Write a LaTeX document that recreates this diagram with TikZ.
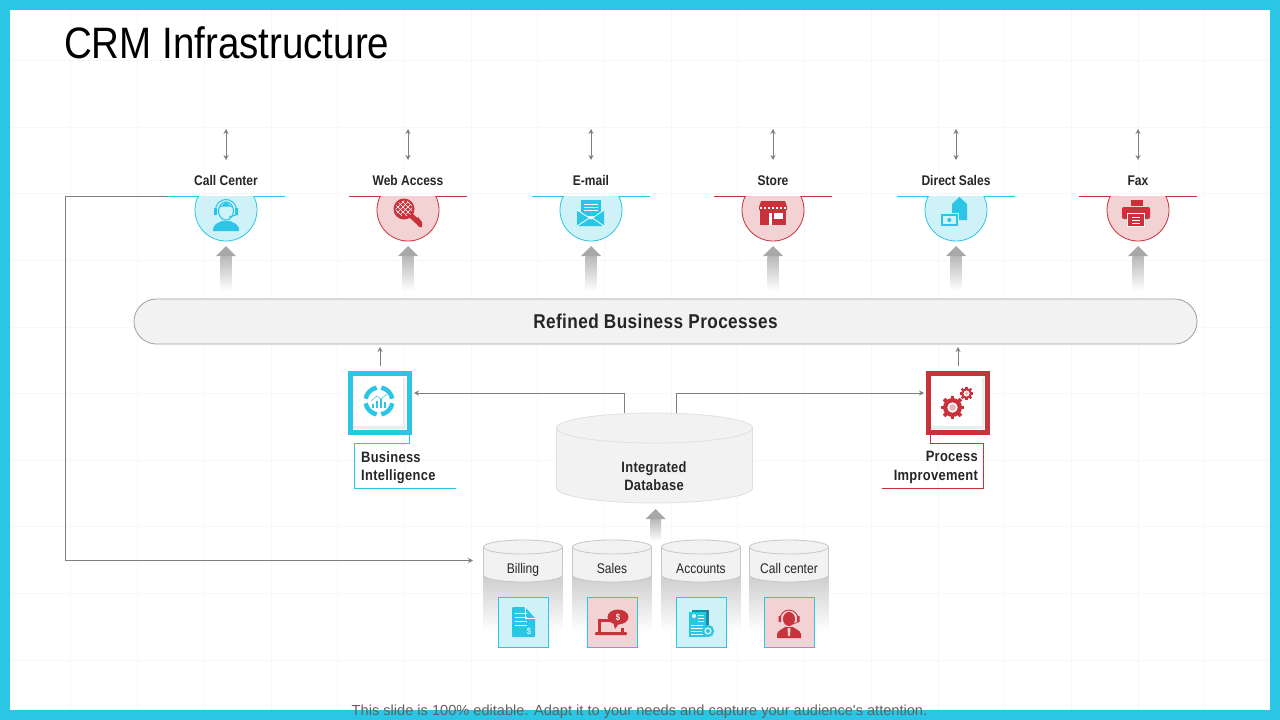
\documentclass[tikz,border=0pt]{standalone}
\usepackage{fontspec}
\setmainfont[FakeStretch=0.86]{Liberation Sans}
\newfontfamily\plainfont{Liberation Sans}
\newfontfamily\titlefont[FakeStretch=0.875]{Liberation Sans}
\newfontfamily\widefont[FakeStretch=0.86, LetterSpace=2]{Liberation Sans}
\usetikzlibrary{calc, arrows.meta}

\definecolor{cyanc}{HTML}{2BC5E6}
\definecolor{cyanl}{HTML}{CFF2F9}
\definecolor{redc}{HTML}{C8323A}
\definecolor{redl}{HTML}{F3D2D3}
\definecolor{inkc}{HTML}{262626}
\definecolor{linec}{HTML}{7F7F7F}
\definecolor{canf}{HTML}{F2F2F2}

\tikzset{
 thinarrow/.style = {draw=linec, line width=1pt, -{Stealth[length=5pt, width=5pt]}},
 twoarrow/.style = {draw=linec, line width=1pt, {Stealth[length=5pt, width=5pt]}-{Stealth[length=5pt, width=5pt]}},
 boldlabel/.style = {font=\fontsize{14}{18}\selectfont\bfseries, text=inkc, inner sep=0pt, anchor=base},
 widelabel/.style = {font=\widefont\fontsize{15}{18.5}\selectfont\bfseries, text=inkc, inner sep=0pt},
 canlabel/.style = {font=\fontsize{14}{18}\selectfont, text=inkc, inner sep=0pt, anchor=base},
 canbody/.style = {fill=canf, draw=#1, line width=.8pt},
 squarebox/.style = {draw=#1, fill=white, line width=5pt, minimum size=59pt, inner sep=0pt},
 wline/.style = {draw=white, line width=.8pt},
 pics/fatup/.style = {code={
  \path [top color=black!28, middle color=black!13, bottom color=white, draw=none] (-5.5,10) rectangle (5.5,#1);
  \fill [black!34] (0,0) -- (10,10) -- (-10,10) -- cycle;
 }},
 iconcall/.pic = {
  \fill [cyanc] (-13,21) .. controls (-13,13) and (-7,13) .. (-4,11) -- (4,11) .. controls (7,13) and (13,13) .. (13,21) -- cycle;
  \draw [cyanc, line width=1pt] (-10.5,0) arc [start angle=180, end angle=0, radius=10.5pt];
  \draw [cyanc, fill=cyanl, line width=1.1pt] (0,1) ellipse [x radius=7.5pt, y radius=9pt];
  \fill [cyanc] (-12,-2) rectangle (-9,5) (9,-2) rectangle (12,5);
  \fill [cyanc] (-7.5,-2) -- (0,-8) -- (7.5,-2) -- (4,-3.5) -- (-4,-3.5) -- cycle;
  \draw [cyanc, line width=1pt] (10,5) -- (3,7);
 },
 iconkey/.pic = {
  \fill [redc] (-4,-1) circle [radius=10.5pt];
  \draw [redc, line width=5pt] (-1,2) -- (10,12);
  \fill [redc] (6,11) -- (10,7) -- (14,12) -- (14,17) -- (11,17) -- cycle;
  \begin{scope}
   \clip (-4,-1) circle [radius=8.5pt];
   \foreach \k in {-15,-10,-5,0,5,10} {
    \draw [white, line width=.5pt] (\k-14,-12) -- (\k+4,6);
    \draw [white, line width=.5pt] (\k+6,-14) -- (\k-12,4);
   }
  \end{scope}
 },
 iconmail/.pic = {
  \fill [cyanc] (-10,-10) rectangle (10,6);
  \foreach \k in {-6,-3,0} \draw [wline] (-7,\k) -- (7,\k);
  \fill [cyanc] (-14,0) -- (-14,16) -- (13,16) -- (13,0) -- (0,9) -- cycle;
  \draw [wline] (-14,0) -- (0,9) -- (13,0) (-14,16) -- (0,7) -- (13,16);
 },
 iconstore/.pic = {
  \fill [redc] (-13,-1) rectangle (13,15);
  \fill [redc] (-12,-9) -- (12,-9) -- (14,-3) -- (14,0) -- (-14,0) -- (-14,-3) -- cycle;
  \foreach \k in {-12,-8,-4,0,4,8,12} \fill [white] (\k-.6,-3) rectangle (\k+.6,-1);
  \fill [white] (-4,3) rectangle (-1,15);
  \fill [white] (1,3) rectangle (10,9);
 },
 icontag/.pic = {
  \fill [cyanc] (-4,-6) -- (3.5,-13) -- (11,-6) -- (11,10) -- (-4,10) -- cycle;
  \fill [cyanl] (-15,3) rectangle (2.5,17);
  \fill [cyanc] (-15,4) rectangle (1.5,16);
  \fill [cyanl] (-13,6) rectangle (-.5,14);
  \fill [cyanc] (-6.7,10) circle [radius=2pt];
 },
 iconprint/.pic = {
  \fill [redc] (-7,-10) rectangle (5,-4);
  \fill [redc, rounded corners=2pt] (-16,-3) rectangle (12,9);
  \fill [white] (-11,3) rectangle (7,16.5);
  \fill [redc] (-10,4) rectangle (6,16);
  \foreach \k in {7,10,13} \draw [wline] (-6,\k) -- (2,\k);
 },
 icondonut/.pic = {
  \foreach \a in {10,100,190,280}
   \draw [cyanc, line width=4.5pt] (\a:13.5pt) arc [start angle=\a, end angle=\a+70, radius=13.5pt];
  \foreach \k/\h in {-6/4,-2/7,2/9,6/6} \fill [cyanc] (\k-1,7) rectangle (\k+1,7-\h);
  \draw [cyanc, line width=.5pt] (-8,0) -- (-2,-5) -- (2,-2) -- (8,-7);
 },
 icongear/.pic = {
  \foreach \c/\r/\t in {0/9.5/3.8, 1/5.5/2.4} {
   \begin{scope}[shift={(\c*14,\c*-14)}]
    \fill [redc] (0,0) circle [radius=\r pt];
    \foreach \a in {0,45,...,315}
     \draw [redc, line width=\t pt] (0,0) -- (\a:\r*1.25pt);
    \fill [white] (0,0) circle [radius=\r*.55pt];
    \fill [redc!35] (0,0) circle [radius=\r*.35pt];
   \end{scope}
  }
 },
 icondoc/.pic = {
  \fill [cyanc, rounded corners=1pt] (-11,-15) -- (2,-15) -- (12,-4) -- (12,15) -- (-11,15) -- cycle;
  \draw [wline] (2,-15) -- (2,-4) -- (12,-4);
  \foreach \k in {-9,-5,-1,3} \draw [wline] (-8,\k) -- (4,\k);
  \node [text=white, inner sep=0pt, font=\fontsize{9}{9}\selectfont] (docmark) at (6,9) {\$};
 },
 iconlaptop/.pic = {
  \draw [redc, line width=3pt] (-13,11) -- (-13,-2) -- (-2,-2);
  \draw [redc, line width=3pt] (10,6) -- (10,11);
  \fill [redc, rounded corners=1pt] (-17,10) rectangle (15,13);
  \fill [redc] (6,-5) ellipse [x radius=10.5pt, y radius=7.5pt];
  \fill [redc] (1,0) -- (8,0) -- (3,7) -- cycle;
  \node [text=white, inner sep=0pt, font=\fontsize{9}{9}\bfseries\selectfont] (lapmark) at (6,-5) {\$};
 },
 iconacct/.pic = {
  \fill [cyanc!70!black] (-9,-12) rectangle (8,13);
  \fill [cyanc] (-12,-10) rectangle (5,15);
  \fill [white] (-7,-6) circle [radius=2pt];
  \foreach \k in {-7,-4,-1} \draw [wline] (-3,\k) -- (3,\k);
  \foreach \k in {3,6,9,12} \draw [wline] (-10,\k) -- (2,\k);
  \draw [cyanc, fill=cyanl, line width=2.2pt] (7,9) circle [radius=5pt];
  \fill [cyanc] (7,9) circle [radius=2pt];
 },
 iconagent/.pic = {
  \fill [redc] (-12,16) -- (-12,12) .. controls (-11,8) and (-6,7) .. (-4,5) -- (4,5) .. controls (6,7) and (11,8) .. (12,12) -- (12,16) -- cycle;
  \fill [redl] (-1.5,6) -- (1.5,6) -- (1,14) -- (-1,14) -- cycle;
  \fill [redc] (0,-3) ellipse [x radius=6pt, y radius=7pt];
  \draw [redc, line width=.9pt] (-9,-3) arc [start angle=180, end angle=0, radius=9pt];
  \fill [redc] (-10.5,-6) rectangle (-8,0) (8,-6) rectangle (10.5,0);
  \draw [redc, line width=.8pt] (9,0) -- (4,2);
 }
}

% 円柱
\newcommand{\dbcan}[6]{%
 \path [canbody=#6] (#1-#3,#2) -- (#1-#3,#2+#5) arc [start angle=180, end angle=360, x radius=#3pt, y radius=#4pt] -- (#1+#3,#2) -- cycle;
 \path [canbody=#6] (#1,#2) ellipse [x radius=#3pt, y radius=#4pt];
}

\begin{document}
\begin{tikzpicture}[x=1pt, y=-1pt]
 \useasboundingbox (0,0) rectangle (1280,720);
 \fill [white] (0,0) rectangle (1280,720);

 %方眼
 \foreach \i in {1,...,18} \draw [black!3, line width=.6pt] (4+\i*66.7,10) -- (4+\i*66.7,710);
 \foreach \i in {0,...,9} \draw [black!3, line width=.6pt] (10,60.5+\i*66.6) -- (1270,60.5+\i*66.6);
 \draw [cyanc, line width=10.5pt] (5,5) rectangle (1275,715);

 \node [anchor=base west, inner sep=0pt, font=\titlefont\fontsize{44}{50}\selectfont, text=black] (title) at (64,58) {CRM Infrastructure};

 %上段
 \foreach \x/\nm/\txt/\clr/\tint/\icon in {
  226/call/Call Center/cyanc/cyanl/iconcall,
  408/web/Web Access/redc/redl/iconkey,
  591/mail/E-mail/cyanc/cyanl/iconmail,
  773/store/Store/redc/redl/iconstore,
  956/direct/Direct Sales/cyanc/cyanl/icontag,
  1138/fax/Fax/redc/redl/iconprint} {
  \node [boldlabel] (\nm) at (\x,185) {\txt};
  \coordinate (\nm up) at (\x,129);
  \coordinate (\nm low) at (\x,160);
  \draw [twoarrow] (\nm up) -- (\nm low);
  \begin{scope}
   \clip (\x-40,196) rectangle (\x+40,250);
   \draw [fill=\tint, draw=\clr, line width=.8pt] (\x,210) circle [radius=31pt];
  \end{scope}
  \draw [\clr, line width=1pt] (\x-59,196) -- (\x-27.5,196) (\x+27.5,196) -- (\x+59,196);
  \pic at (\x,210) {\icon};
  \pic at (\x,246) {fatup=45};
 }

 \node [draw=black!38, fill=canf, line width=.8pt, rounded corners=22.5pt, minimum width=1063pt, minimum height=45pt, inner sep=0pt] (refined) at (665.5,321.5) {};
 \node [widelabel, font=\widefont\fontsize{20}{24}\selectfont\bfseries] (refinedtext) at (655.5,321.5) {Refined Business Processes};

 %中段
 \node [squarebox=cyanc] (bi) at (379.5,403) {};
 \node [squarebox=redc] (pi) at (958,403) {};
 \fill [black!7] (353,426) rectangle (405,429) (403,377) rectangle (405,429);
 \fill [black!7] (931,426) rectangle (984,429) (982,377) rectangle (984,429);
 \pic at (379,401) {icondonut};
 \pic at (952.5,407.5) {icongear};
 \coordinate (bi top) at (380,366);
 \coordinate (bi end) at (380,347);
 \coordinate (pi top) at (958,366);
 \coordinate (pi end) at (958,347);
 \draw [thinarrow] (bi top) -- (bi end);
 \draw [thinarrow] (pi top) -- (pi end);

 \dbcan{654.5}{428}{98}{15}{60}{black!12}
 \node [widelabel, align=center] (intdb) at (654,476) {Integrated\\Database};
 \coordinate (db left) at (624,413);
 \coordinate (db right) at (676,413);
 \coordinate (bi in) at (414,393);
 \coordinate (pi in) at (924,393);
 \draw [thinarrow] (db left) |- (bi in);
 \draw [thinarrow] (db right) |- (pi in);

 \node [widelabel, align=left, anchor=west] (bitext) at (361,467.5) {Business\\Intelligence};
 \node [widelabel, align=right, anchor=east] (pitext) at (978,467.5) {Process\\Improvement};
 \draw [cyanc, line width=.8pt] (409,435) -- (409,443) -- (354.5,443) -- (354.5,488) -- (456,488);
 \draw [redc, line width=.8pt] (930,435) -- (930,443) -- (983,443) -- (983,488) -- (882,488);

 %下段
 \pic at (655.5,509) {fatup=32};
 \foreach \x/\nm/\txt/\tint/\icon in {
  523/billing/Billing/cyanl/icondoc,
  612/sales/Sales/redl/iconlaptop,
  701/accounts/Accounts/cyanl/iconacct,
  789/callcenter/Call center/redl/iconagent} {
  \path [top color=black!20, bottom color=white, draw=none] (\x-40,574) rectangle (\x+39.5,632);
  \dbcan{\x}{547}{39.5}{7}{28}{black!22}
  \node [canlabel] (\nm) at (\x,573) {\txt};
  \node [draw=cyanc, fill=\tint, line width=.8pt, minimum size=50pt, inner sep=0pt] (\nm box) at (\x,622) {};
  \pic at (\x,622) {\icon};
 }

 %左の線
 \coordinate (bus start) at (168,196);
 \coordinate (bus corner) at (65.5,196);
 \coordinate (bus end) at (473,560.5);
 \draw [thinarrow] (bus start) -- (bus corner) |- (bus end);

 \node [inner sep=0pt, text=black!62, font=\plainfont\fontsize{14.6}{18}\selectfont] (caption) at (639.5,712) {This slide is 100\% editable. Adapt it to your needs and capture your audience's attention.};
\end{tikzpicture}
\end{document}
